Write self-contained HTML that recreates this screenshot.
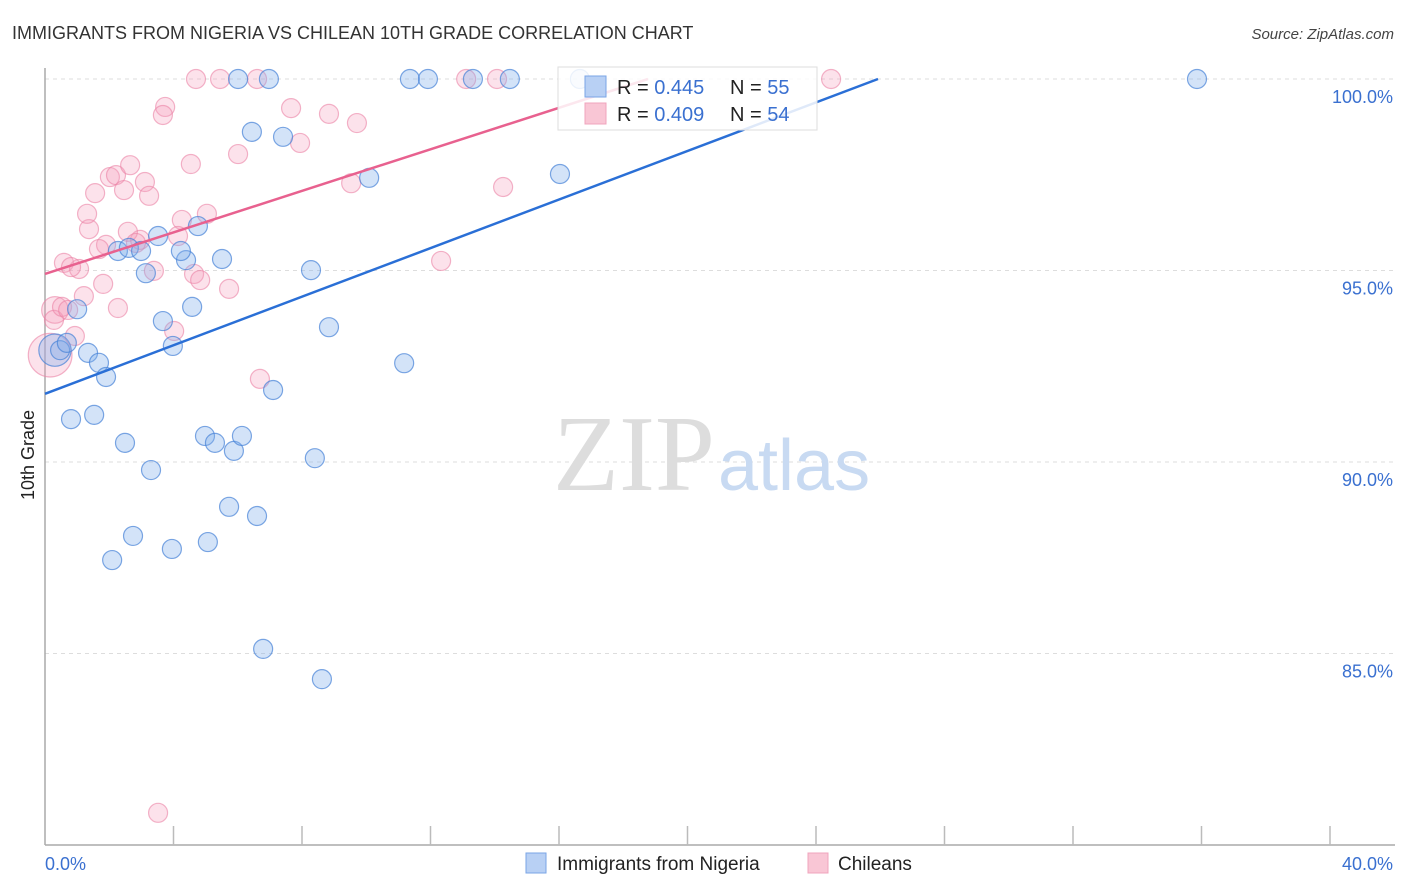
<!DOCTYPE html>
<html><head><meta charset="utf-8"><style>
body{margin:0;background:#fff;font-family:"Liberation Sans",sans-serif;}
svg{display:block}
</style></head><body>
<svg id="chart" width="1406" height="892">
<text x="12" y="39" font-size="18" fill="#333">IMMIGRANTS FROM NIGERIA VS CHILEAN 10TH GRADE CORRELATION CHART</text>
<text x="1394" y="39" font-size="15" fill="#444" font-style="italic" text-anchor="end">Source: ZipAtlas.com</text>
<g id="grid"></g>
<g>
<text x="553" y="490" font-family="Liberation Serif,serif" font-size="108" fill="#ddd">ZIP</text>
<text x="718" y="490" font-size="72" fill="#c8daf2">atlas</text>
</g>
<g id="axes"></g>
<g id="marks"></g>
<text transform="translate(34,455) rotate(-90)" font-size="18" fill="#222" text-anchor="middle">10th Grade</text>
<g>
<rect x="558" y="67" width="259" height="63" fill="rgba(255,255,255,0.85)" stroke="#ddd"/>
<rect x="585" y="76" width="21" height="21" fill="#b8d0f4" stroke="#7aa5e6"/>
<rect x="585" y="103" width="21" height="21" fill="#f9c6d5" stroke="#f0a4bd"/>
<text x="617" y="94" font-size="20" fill="#222">R = <tspan fill="#3a70d0">0.445</tspan><tspan x="730">N = </tspan><tspan fill="#3a70d0">55</tspan></text>
<text x="617" y="121" font-size="20" fill="#222">R = <tspan fill="#3a70d0">0.409</tspan><tspan x="730">N = </tspan><tspan fill="#3a70d0">54</tspan></text>
</g>
<g>
<rect x="526" y="853" width="20" height="20" fill="#b8d0f4" stroke="#7aa5e6"/>
<text x="557" y="870" font-size="19" fill="#222">Immigrants from Nigeria</text>
<rect x="808" y="853" width="20" height="20" fill="#f9c6d5" stroke="#f0a4bd"/>
<text x="838" y="870" font-size="19" fill="#222">Chileans</text>
</g>
</svg>
<script>
const yTicks=[100,95,90,85];
const yTickLabels=["100.0%","95.0%","90.0%","85.0%"];
const xEndLabels=["0.0%","40.0%"];
const blueX=[0.31,0.47,0.68,1.34,1.68,1.90,1.00,0.81,1.53,2.49,3.30,2.74,2.09,3.95,5.07,5.73,6.60,4.98,5.29,5.88,6.13,6.79,8.62,8.40,7.10,8.84,11.18,8.28,5.51,4.39,4.23,4.58,3.67,3.98,3.14,2.27,2.61,2.99,3.52,4.76,6.44,7.41,10.09,16.03,6.01,6.97,11.36,11.92,13.32,14.47,16.65,35.86];
const blueY=[92.92,92.92,93.11,92.85,92.59,92.22,93.99,91.12,91.23,90.50,89.79,88.07,87.44,87.73,87.91,88.83,88.59,90.68,90.50,90.29,90.68,85.12,84.33,90.10,91.88,93.52,92.58,95.01,95.30,95.27,95.51,94.05,93.68,93.03,94.93,95.51,95.59,95.51,95.90,96.16,98.62,98.49,97.42,97.52,100,100,100,100,100,100,100,100];
const pinkX=[0.16,0.31,0.28,0.53,0.93,0.72,1.21,1.81,0.59,1.06,0.81,2.27,1.37,1.31,1.56,2.02,2.21,2.46,2.65,3.11,3.24,3.74,3.67,4.54,6.01,4.70,5.45,6.60,13.11,14.07,24.47,7.66,8.84,9.71,7.94,9.53,14.26,12.33,5.04,4.26,4.14,2.96,2.58,2.83,1.90,1.68,3.39,4.64,4.83,5.73,4.02,6.69,3.52];
const pinkY=[92.79,93.97,93.71,94.05,93.29,93.97,94.33,94.65,95.20,95.04,95.09,94.02,96.08,96.48,97.02,97.44,97.49,97.10,97.75,97.31,96.95,99.27,99.06,97.78,98.04,100,100,100,100,100,100,99.24,99.09,98.85,98.33,97.28,97.18,95.25,96.48,96.32,95.90,95.80,96.01,95.72,95.67,95.56,94.99,94.91,94.75,94.52,93.42,92.17,80.84];
const blueSize=[1.7,1,1,1,1,1,1,1,1,1,1,1,1,1,1,1,1,1,1,1,1,1,1,1,1,1,1,1,1,1,1,1,1,1,1,1,1,1,1,1,1,1,1,1,1,1,1,1,1,1,1,1];
const pinkSize=[2.3,1.4,1,1,1,1,1,1,1,1,1,1,1,1,1,1,1,1,1,1,1,1,1,1,1,1,1,1,1,1,1,1,1,1,1,1,1,1,1,1,1,1,1,1,1,1,1,1,1,1,1,1,1];
const blueTrend=[91.78,100];
const pinkTrend=[94.91,100];
const blueTrendX=[0,25.93];
const pinkTrendX=[0,18.77];
const NS="http://www.w3.org/2000/svg";
const X=v=>45+v*1285/40, Y=v=>79+(100-v)*38.3;
function mk(t,a,p){const e=document.createElementNS(NS,t);for(const k in a)e.setAttribute(k,a[k]);p.appendChild(e);return e;}
const grid=document.getElementById('grid'),axes=document.getElementById('axes'),marks=document.getElementById('marks');
yTicks.forEach((t,i)=>{
 const l=mk('line',{x1:45,x2:1395,y1:Y(t),y2:Y(t),stroke:'#ddd','stroke-dasharray':'4,4'},grid);
 
 
 const tx=mk('text',{x:1393,y:Y(t)+24,'font-size':18,fill:'#3a70d0','text-anchor':'end'},axes);
 tx.textContent=yTickLabels[i];
 
 
});
mk('line',{x1:45,x2:45,y1:68,y2:845,stroke:'#aaa','stroke-width':1.5},axes);
mk('line',{x1:45,x2:1395,y1:845,y2:845,stroke:'#aaa','stroke-width':1.5},axes);
for(let i=1;i<=10;i++){const tk=mk('line',{x1:X(i*4),x2:X(i*4),y1:826,y2:845,stroke:'#bbb','stroke-width':1.5},axes);
 
 }
const xl0=mk('text',{x:45,y:870,'font-size':18,fill:'#3a70d0'},axes);xl0.textContent=xEndLabels[0];


const xl1=mk('text',{x:1393,y:870,'font-size':18,fill:'#3a70d0','text-anchor':'end'},axes);xl1.textContent=xEndLabels[1];


pinkX.forEach((v,i)=>{const c=mk('circle',{cx:X(v),cy:Y(pinkY[i]),r:9.5*pinkSize[i],fill:'rgba(245,160,190,0.3)',stroke:'rgba(235,130,165,0.6)','stroke-width':1.2},marks);
 
 });
blueX.forEach((v,i)=>{const c=mk('circle',{cx:X(v),cy:Y(blueY[i]),r:9.5*blueSize[i],fill:'rgba(130,175,235,0.35)',stroke:'rgba(70,130,215,0.7)','stroke-width':1.2},marks);
 
 });
const bl=mk('line',{x1:X(blueTrendX[0]),y1:Y(blueTrend[0]),x2:X(blueTrendX[1]),y2:Y(blueTrend[1]),stroke:'#2a6fd6','stroke-width':2.5},marks);


const pl=mk('line',{x1:X(pinkTrendX[0]),y1:Y(pinkTrend[0]),x2:X(pinkTrendX[1]),y2:Y(pinkTrend[1]),stroke:'#e8618f','stroke-width':2.5},marks);


</script>
</body></html>
